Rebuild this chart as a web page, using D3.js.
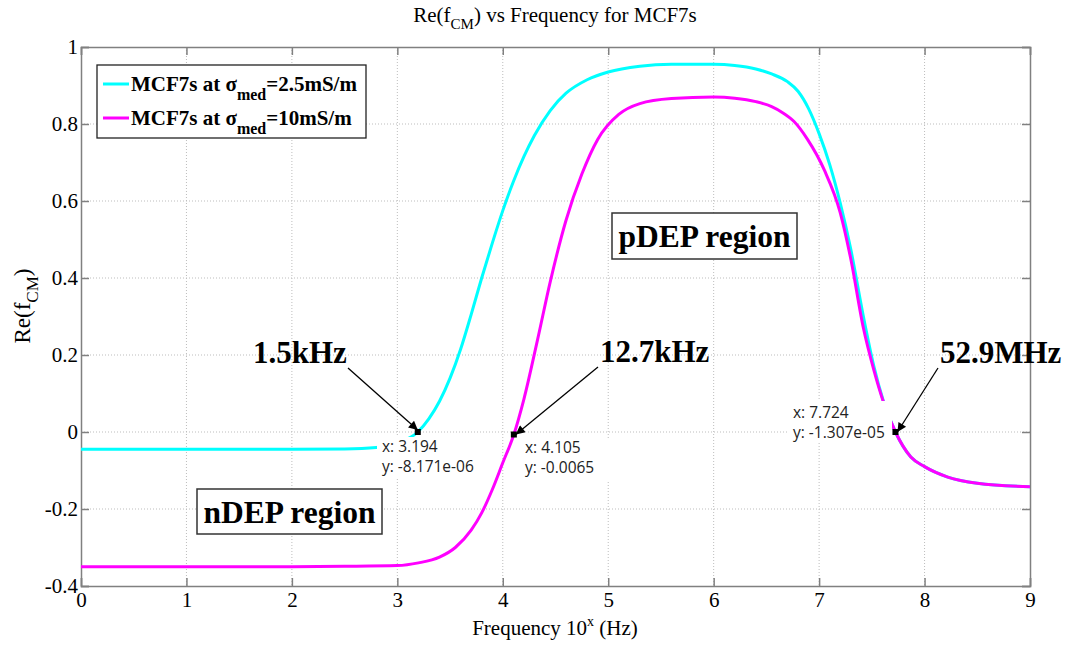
<!DOCTYPE html>
<html>
<head>
<meta charset="utf-8">
<script src="https://cdn.jsdelivr.net/npm/d3@7"></script>
<style>
  body { margin: 0; background: #fff; }
  svg { font-family: "Liberation Serif", "Times New Roman", serif; }
</style>
</head>
<body>
<svg id="chart" width="1065" height="645"></svg>
<script>
// data: log10 of frequency vs Re(fCM)
var lowX  = [0, 1, 2, 2.5, 2.8, 3.0, 3.194, 3.3, 3.4, 3.5, 3.6, 3.7, 3.8, 3.9, 4.0, 4.1, 4.2, 4.3, 4.45, 4.6, 4.8, 5.0, 5.3, 5.6, 6.0, 6.2, 6.4, 6.55, 6.7, 6.8, 6.9, 7.0, 7.1, 7.2, 7.3, 7.42, 7.52, 7.61, 7.724, 7.87, 8.0, 8.22, 8.5, 9];
var lowY  = [-0.045, -0.045, -0.045, -0.044, -0.040, -0.028, 0, 0.035, 0.08, 0.14, 0.215, 0.305, 0.40, 0.49, 0.575, 0.65, 0.715, 0.77, 0.835, 0.88, 0.915, 0.935, 0.95, 0.955, 0.955, 0.952, 0.943, 0.93, 0.91, 0.885, 0.84, 0.775, 0.695, 0.595, 0.475, 0.30, 0.17, 0.08, 0, -0.065, -0.09, -0.117, -0.133, -0.142];
var highX = [0, 1, 2, 2.5, 3.0, 3.2, 3.4, 3.55, 3.7, 3.8, 3.9, 4.0, 4.105, 4.2, 4.33, 4.45, 4.6, 4.75, 4.9, 5.1, 5.3, 5.6, 6.0, 6.2, 6.4, 6.55, 6.65, 6.76, 6.89, 7.05, 7.2, 7.3, 7.42, 7.52, 7.61, 7.724, 7.87, 8.0, 8.22, 8.5, 9];
var highY = [-0.35, -0.35, -0.35, -0.349, -0.347, -0.34, -0.325, -0.30, -0.255, -0.21, -0.15, -0.08, -0.0065, 0.085, 0.24, 0.39, 0.55, 0.67, 0.76, 0.825, 0.853, 0.866, 0.87, 0.867, 0.858, 0.845, 0.83, 0.807, 0.76, 0.68, 0.57, 0.45, 0.27, 0.16, 0.078, 0, -0.065, -0.09, -0.117, -0.133, -0.142];

var xTicks = [0, 1, 2, 3, 4, 5, 6, 7, 8, 9];
var yTicks = [-0.4, -0.2, 0, 0.2, 0.4, 0.6, 0.8, 1];

var legendNames = ["2.5mS/m", "10mS/m"];
var colors = ["#00ffff", "#ff00ff"];

// datatips: points and their labels
var tips = [
  {x: 3.194, y: -8.171e-06, ty: "-8.171e-06", tx: "3.194"},
  {x: 4.105, y: -0.0065, ty: "-0.0065", tx: "4.105"},
  {x: 7.724, y: -1.307e-05, ty: "-1.307e-05", tx: "7.724"}
];
var callouts = ["1.5kHz", "12.7kHz", "52.9MHz"];

var svg = d3.select("#chart");
var plotL = 81, plotR = 1030, plotT = 47, plotB = 586;

var x = d3.scaleLinear().domain([0, 9]).range([plotL, plotR]);
var y = d3.scaleLinear().domain([-0.4, 1]).range([plotB, plotT]);

// grid
var grid = svg.append("g").attr("stroke", "#bdbdbd").attr("stroke-dasharray", "1,2").attr("stroke-width", 1);
grid.selectAll(".gx").data(xTicks.slice(1, -1)).enter().append("line")
  .attr("x1", d => x(d)).attr("x2", d => x(d)).attr("y1", plotT).attr("y2", plotB);
grid.selectAll(".gy").data(yTicks.slice(1, -1)).enter().append("line")
  .attr("y1", d => y(d)).attr("y2", d => y(d)).attr("x1", plotL).attr("x2", plotR);

// axes, ticks pointing inwards on all four sides
var axisColor = "#808080";
svg.append("g").attr("transform", "translate(0," + plotB + ")")
  .call(d3.axisBottom(x).tickValues(xTicks).tickSize(-8).tickPadding(6).tickFormat(d3.format("d")));
svg.append("g").attr("transform", "translate(0," + plotT + ")")
  .call(d3.axisTop(x).tickValues(xTicks).tickSize(-8).tickFormat(""));
svg.append("g").attr("transform", "translate(" + plotL + ",0)")
  .call(d3.axisLeft(y).tickValues(yTicks).tickSize(-8).tickPadding(3).tickFormat(d => String(+d.toFixed(1))));
svg.append("g").attr("transform", "translate(" + plotR + ",0)")
  .call(d3.axisRight(y).tickValues(yTicks).tickSize(-8).tickFormat(""));
svg.selectAll(".domain").attr("stroke", axisColor).attr("stroke-width", 1.5);
svg.selectAll(".tick line").attr("stroke", axisColor).attr("stroke-width", 1.5);
svg.selectAll(".tick text").attr("font-family", "Liberation Serif").attr("font-size", 21).attr("fill", "#000");

// curves
var line = d3.line().x(d => x(d[0])).y(d => y(d[1])).curve(d3.curveMonotoneX);
var series = [d3.zip(lowX, lowY), d3.zip(highX, highY)];
svg.append("g").selectAll("path").data(series).enter().append("path")
  .attr("d", line).attr("fill", "none")
  .attr("stroke", (d, i) => colors[i]).attr("stroke-width", 3);

// datatip labels sit on white boxes that hide the curve behind them
var tipBoxes = [[377, 437, 104, 42, 382, 452], [520, 440, 104, 42, 525, 453], [788, 401, 104, 42, 793, 418]];
tips.forEach(function(t, i) {
  var b = tipBoxes[i];
  svg.append("rect").attr("x", b[0]).attr("y", b[1]).attr("width", b[2]).attr("height", b[3]).attr("fill", "#fff");
  var tt = svg.append("text").attr("font-family", "Open Sans, DejaVu Sans, sans-serif").attr("font-size", 15.5).attr("fill", "#222");
  tt.append("tspan").attr("x", b[4]).attr("y", b[5]).text("x: " + t.tx);
  tt.append("tspan").attr("x", b[4]).attr("y", b[5] + 20).text("y: " + t.ty);
  svg.append("rect").attr("x", x(t.x) - 3).attr("y", y(t.y) - 3).attr("width", 6).attr("height", 6).attr("fill", "#000");
});

// arrow callouts
svg.append("defs").append("marker")
  .attr("id", "head").attr("viewBox", "0 0 10 10").attr("refX", 10).attr("refY", 5)
  .attr("markerWidth", 14).attr("markerHeight", 9).attr("markerUnits", "userSpaceOnUse").attr("orient", "auto")
  .append("path").attr("d", "M0,0 L10,5 L0,10 Z").attr("fill", "#000");
var arrowStart = [[348, 368], [598, 367], [938, 368]];
var labelPos = [[253, 363], [600, 362], [940, 363]];
tips.forEach(function(t, i) {
  svg.append("line")
    .attr("x1", arrowStart[i][0]).attr("y1", arrowStart[i][1])
    .attr("x2", x(t.x) + (i == 0 ? 0 : 2)).attr("y2", y(t.y) - (i == 0 ? 2 : 0))
    .attr("stroke", "#000").attr("stroke-width", 1.3).attr("marker-end", "url(#head)");
  svg.append("text").attr("x", labelPos[i][0]).attr("y", labelPos[i][1])
    .attr("font-size", 31).attr("font-weight", "bold").text(callouts[i]);
});

// region boxes
var regions = [{t: "pDEP region", b: [612, 213, 185, 46]}, {t: "nDEP region", b: [197, 489, 185, 45]}];
regions.forEach(function(r) {
  svg.append("rect").attr("x", r.b[0]).attr("y", r.b[1]).attr("width", r.b[2]).attr("height", r.b[3])
    .attr("fill", "#fff").attr("stroke", "#333").attr("stroke-width", 1.5);
  svg.append("text").attr("x", r.b[0] + r.b[2] / 2).attr("y", r.b[1] + 34).attr("text-anchor", "middle")
    .attr("font-size", 31.5).attr("font-weight", "bold").text(r.t);
});

// legend
var lg = svg.append("g");
lg.append("rect").attr("x", 97).attr("y", 65).attr("width", 269).attr("height", 73)
  .attr("fill", "#fff").attr("stroke", "#222").attr("stroke-width", 1.3);
legendNames.forEach(function(n, i) {
  var ly = 84 + i * 34;
  lg.append("line").attr("x1", 103).attr("x2", 129).attr("y1", ly).attr("y2", ly)
    .attr("stroke", colors[i]).attr("stroke-width", 3);
  var t = lg.append("text").attr("x", 131).attr("y", ly + 7).attr("font-size", 21).attr("font-weight", "bold");
  t.append("tspan").text("MCF7s at \u03c3");
  t.append("tspan").attr("font-size", 16).attr("dy", 9).text("med");
  t.append("tspan").attr("dy", -9).text("=" + n);
});

// title and axis labels
var title = svg.append("text").attr("x", 555).attr("y", 22).attr("text-anchor", "middle").attr("font-size", 21);
title.append("tspan").text("Re(f");
title.append("tspan").attr("font-size", 15).attr("dy", 7).text("CM");
title.append("tspan").attr("dy", -7).text(") vs Frequency for MCF7s");

var xl = svg.append("text").attr("x", 555).attr("y", 635).attr("text-anchor", "middle").attr("font-size", 21);
xl.append("tspan").text("Frequency 10");
xl.append("tspan").attr("font-size", 14).attr("dy", -9).text("x");
xl.append("tspan").attr("dy", 9).text(" (Hz)");

var yl = svg.append("text").attr("transform", "translate(30,306) rotate(-90)").attr("text-anchor", "middle").attr("font-size", 23);
yl.append("tspan").text("Re(f");
yl.append("tspan").attr("font-size", 17).attr("dy", 8).text("CM");
yl.append("tspan").attr("dy", -8).text(")");
</script>
</body>
</html>
